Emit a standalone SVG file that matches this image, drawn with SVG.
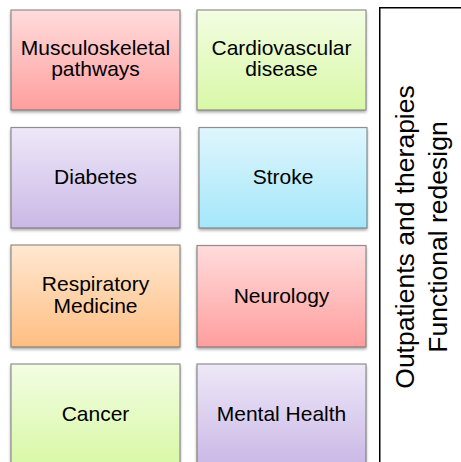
<svg xmlns="http://www.w3.org/2000/svg" width="461" height="462" viewBox="0 0 461 462">
<defs>
<linearGradient id="gRed" x1="0" y1="0" x2="0" y2="1"><stop offset="0" stop-color="#FFDCDC"/><stop offset="1" stop-color="#FF9E9E"/></linearGradient>
<linearGradient id="gGreen" x1="0" y1="0" x2="0" y2="1"><stop offset="0" stop-color="#F3FDE3"/><stop offset="1" stop-color="#D8F8A6"/></linearGradient>
<linearGradient id="gPurple" x1="0" y1="0" x2="0" y2="1"><stop offset="0" stop-color="#EEE8F8"/><stop offset="1" stop-color="#CAB8E6"/></linearGradient>
<linearGradient id="gCyan" x1="0" y1="0" x2="0" y2="1"><stop offset="0" stop-color="#DFF6FD"/><stop offset="1" stop-color="#A4E7FA"/></linearGradient>
<linearGradient id="gOrange" x1="0" y1="0" x2="0" y2="1"><stop offset="0" stop-color="#FFE8D2"/><stop offset="1" stop-color="#FFBE82"/></linearGradient>
<filter id="sh" x="-10%" y="-10%" width="120%" height="130%">
<feGaussianBlur in="SourceAlpha" stdDeviation="1.6"/>
<feOffset dx="0" dy="2" result="b"/>
<feComponentTransfer><feFuncA type="linear" slope="0.35"/></feComponentTransfer>
<feMerge><feMergeNode/><feMergeNode in="SourceGraphic"/></feMerge>
</filter>
</defs>
<style>
.box{stroke:#5a5a5a;stroke-opacity:0.65;stroke-width:1.2;filter:url(#sh)}
.t{font-family:"Liberation Sans",Arial,sans-serif;font-size:21px;fill:#000;text-anchor:middle}
.side{font-family:"Liberation Sans",Arial,sans-serif;font-size:26.5px;fill:#000;text-anchor:middle}
</style>
<g id="musculoskeletal">
<rect class="box" x="11" y="10" width="169" height="100" fill="url(#gRed)"/>
<text class="t" x="95.5" y="55">Musculoskeletal</text>
<text class="t" x="95.5" y="76">pathways</text>
</g>
<g id="cardiovascular">
<rect class="box" x="197" y="10" width="169" height="100" fill="url(#gGreen)"/>
<text class="t" x="281.5" y="55">Cardiovascular</text>
<text class="t" x="281.5" y="76">disease</text>
</g>
<g id="diabetes">
<rect class="box" x="11" y="127.5" width="169" height="100.5" fill="url(#gPurple)"/>
<text class="t" x="95.5" y="183.5">Diabetes</text>
</g>
<g id="stroke">
<rect class="box" x="199" y="127.5" width="168" height="100.5" fill="url(#gCyan)"/>
<text class="t" x="283" y="183.5">Stroke</text>
</g>
<g id="respiratory">
<rect class="box" x="11" y="245" width="169" height="102" fill="url(#gOrange)"/>
<text class="t" x="95.5" y="291">Respiratory</text>
<text class="t" x="95.5" y="313">Medicine</text>
</g>
<g id="neurology">
<rect class="box" x="197" y="245.5" width="169" height="101.5" fill="url(#gRed)"/>
<text class="t" x="281.5" y="303">Neurology</text>
</g>
<g id="cancer">
<rect class="box" x="11" y="364" width="169" height="102" fill="url(#gGreen)"/>
<text class="t" x="95.5" y="421">Cancer</text>
</g>
<g id="mental-health">
<rect class="box" x="197" y="364" width="169" height="102" fill="url(#gPurple)"/>
<text class="t" x="281.5" y="421">Mental Health</text>
</g>
<g id="outpatients">
<path d="M470,7.75 H379.75 V470" fill="none" stroke="#000" stroke-width="1.5"/>
<g transform="translate(414,237) rotate(-90)">
<text class="side" x="0" y="0">Outpatients and therapies</text>
<text class="side" x="0" y="33">Functional redesign</text>
</g>
</g>
<g id="connectors"/>
</svg>
